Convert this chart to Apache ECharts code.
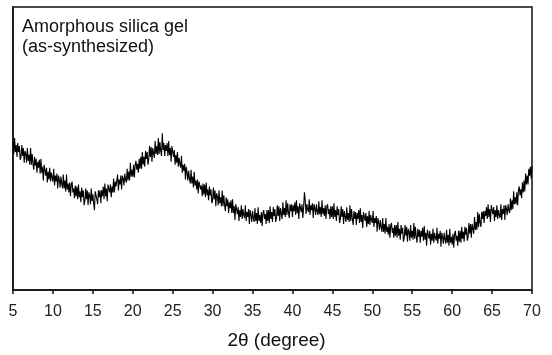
<!DOCTYPE html>
<html>
<head>
<meta charset="utf-8">
<script src="https://cdn.jsdelivr.net/npm/echarts@6/dist/echarts.min.js"></script>
<style>
html,body{margin:0;padding:0;background:#fff;}
#chart{width:552px;height:355px;}
</style>
</head>
<body>
<div id="chart"></div>
<script>
// XRD pattern of amorphous silica gel (as-synthesized)
const twoThetaStart = 5;
const twoThetaStep = 0.1;
const xTicks = [5,10,15,20,25,30,35,40,45,50,55,60,65,70];
const labelLines = ["Amorphous silica gel", "(as-synthesized)"];
const axisTitle = "2θ (degree)";
// intensity (arbitrary units), one row per degree, 10 readings per degree
const intensity = [
152,138,154,140,147,135,149,140,146,132,
135,147,136,144,129,141,138,129,144,131,
137,127,144,127,138,128,122,135,126,133,
119,130,124,132,118,133,119,125,111,127,
127,116,124,109,120,112,124,110,119,114,
110,123,106,116,110,118,103,116,112,104,
115,108,103,117,103,111,100,117,102,108,
99,109,95,107,110,99,103,93,106,95,
105,92,107,94,100,89,104,94,101,86,
90,103,92,101,86,99,96,87,103,90,
97,88,81,100,102,92,87,101,94,101,
88,101,95,105,92,108,95,103,90,107,
108,99,107,94,105,99,113,99,110,105,
103,117,101,112,107,116,102,116,113,106,
118,112,109,123,111,120,111,129,115,122,
115,127,114,127,131,122,128,119,133,123,
135,123,140,127,135,125,141,133,140,127,
132,146,135,145,130,144,143,134,151,138,
146,137,154,138,150,141,136,159,142,149,
136,147,141,149,136,151,137,144,130,146,
146,135,142,127,137,129,140,125,134,128,
124,136,119,127,121,128,112,125,119,111,
121,113,108,122,108,115,104,120,106,111,
102,112,98,110,112,102,106,95,108,97,
107,94,109,96,102,91,105,96,102,88,
91,104,92,101,85,98,95,86,101,88,
94,85,101,85,96,86,80,94,85,92,
78,89,83,91,78,92,78,85,71,87,
87,77,84,70,81,74,86,72,82,76,
73,86,70,79,74,82,67,81,76,69,
80,73,69,83,70,78,67,84,70,76,
68,79,65,78,81,72,77,67,81,70,
81,68,85,72,79,69,84,75,82,69,
73,86,75,85,70,83,81,72,89,76,
83,74,91,76,88,78,73,87,80,87,
74,86,80,89,76,91,78,85,72,88,
89,79,87,73,84,99,91,77,87,82,
79,92,76,86,81,88,73,87,83,76,
87,80,76,90,77,84,74,91,77,83,
75,86,72,84,87,77,82,72,85,74,
85,72,88,74,81,70,85,76,82,68,
72,85,74,82,67,80,78,69,84,71,
78,69,86,70,82,72,66,80,72,79,
66,78,72,81,68,83,69,76,63,79,
80,70,78,64,75,67,80,66,76,71,
68,80,64,73,68,75,59,73,68,61,
71,64,59,73,59,67,57,73,59,64,
56,67,53,65,68,58,63,53,66,55,
66,53,69,55,62,51,66,57,63,49,
53,66,55,64,49,62,59,50,66,53,
60,51,68,52,64,54,48,62,54,61,
48,60,54,63,50,65,51,58,45,61,
62,52,60,46,57,50,62,48,58,53,
50,63,47,57,52,60,44,58,54,47,
58,51,47,61,48,56,45,62,48,54,
46,57,43,57,60,50,55,45,60,49,
60,48,64,52,59,49,64,56,63,50,
54,68,57,67,53,67,65,57,74,61,
69,61,79,64,77,68,64,79,72,80,
68,80,75,84,72,87,74,82,69,86,
87,77,84,70,81,74,86,72,81,76,
73,87,71,82,77,86,71,86,82,76,
87,81,78,93,81,91,82,100,87,94,
87,99,86,101,105,96,102,93,109,99,
111,100,118,107,116,107,123,116,125,113,
126
];

const seriesData = intensity.map((v, i) => [+(twoThetaStart + i * twoThetaStep).toFixed(2), v]);
const font = '"Liberation Sans", Arial, sans-serif';

const chart = echarts.init(document.getElementById('chart'), null, {renderer: 'canvas'});
chart.setOption({
  animation: false,
  backgroundColor: '#fff',
  title: {
    text: labelLines.join('\n'),
    left: 17,
    top: 12,
    textStyle: {fontFamily: font, fontSize: 18, fontWeight: 'normal', color: '#111', lineHeight: 20}
  },
  grid: {
    left: 13, right: 20, top: 7, bottom: 61,
    show: true, borderColor: '#111', borderWidth: 1.5, backgroundColor: 'transparent'
  },
  xAxis: {
    type: 'value',
    min: 5, max: 70, interval: 5,
    name: axisTitle,
    nameLocation: 'middle',
    nameGap: 41,
    nameTextStyle: {fontFamily: font, fontSize: 19, color: '#111', padding: [0, 0, 0, 8]},
    axisLine: {show: true, lineStyle: {color: '#111', width: 1.5}},
    axisTick: {show: true, inside: false, length: 4, lineStyle: {color: '#111', width: 1.5}},
    axisLabel: {fontFamily: font, fontSize: 16, color: '#222', margin: 14,
      formatter: v => xTicks.includes(v) ? String(v) : ''},
    splitLine: {show: false}
  },
  yAxis: {
    type: 'value',
    min: 0, max: 287,
    axisLine: {show: true, lineStyle: {color: '#111', width: 1.5}},
    axisTick: {show: false},
    axisLabel: {show: false},
    splitLine: {show: false}
  },
  series: [{
    type: 'line',
    data: seriesData,
    showSymbol: false,
    symbol: 'none',
    lineStyle: {color: '#000', width: 1.1},
    clip: true
  }]
});
</script>
</body>
</html>
